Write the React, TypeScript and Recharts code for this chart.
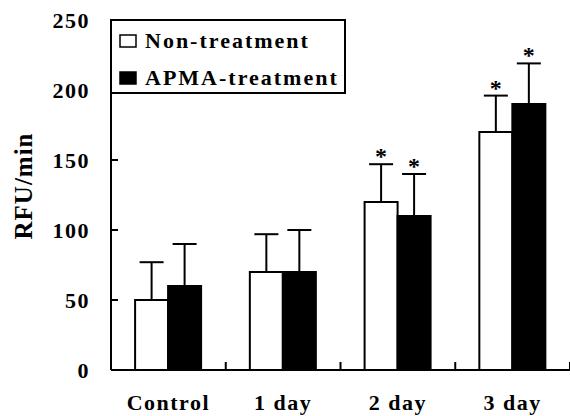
import React from 'react';
import { BarChart, Bar, XAxis, YAxis, ErrorBar, LabelList } from 'recharts';

const categories = ['Control', '1 day', '2 day', '3 day'];
const nonTreatment = [50, 70, 120, 170];
const nonTreatmentErr = [27, 27, 27, 26];
const apmaTreatment = [60, 70, 110, 190];
const apmaTreatmentErr = [30, 30, 30, 29];
const nonSig = [false, false, true, true];
const apmaSig = [false, false, true, true];
const yTicks = [0, 50, 100, 150, 200, 250];

const data = categories.map((name, i) => ({
  name,
  non: nonTreatment[i],
  nonErr: [0, nonTreatmentErr[i]],
  nonErrTop: nonTreatmentErr[i],
  apma: apmaTreatment[i],
  apmaErr: [0, apmaTreatmentErr[i]],
  apmaErrTop: apmaTreatmentErr[i],
}));

const FONT = '"Liberation Serif", "Times New Roman", serif';
const Y_AXIS_W = 111;

const YTick = ({ x, y, payload }: any) => (
  <g>
    <line x1={x} x2={x + 7} y1={y} y2={y} stroke="#000" strokeWidth={2} />
    <text x={x - 21} y={y} dy={8} textAnchor="end" fontFamily={FONT} fontWeight="bold" fontSize={22} letterSpacing={1.5} fill="#000">
      {payload.value}
    </text>
  </g>
);

// category label plus the small inward tick at the right edge of each band
const XTick = ({ x, y, payload, index }: any) => {
  const i = index ?? payload?.index ?? 0;
  const band = (x - Y_AXIS_W) / (i + 0.5);
  const edge = x + band / 2;
  return (
    <g>
      <line x1={edge} x2={edge} y1={y} y2={y - 8} stroke="#000" strokeWidth={2} />
      <text x={x} y={y + 40} textAnchor="middle" fontFamily={FONT} fontWeight="bold" fontSize={22} letterSpacing={1.5} fill="#000">
        {payload.value}
      </text>
    </g>
  );
};

const starRenderer = (values: number[], sig: boolean[]) => (props: any) => {
  const { x, y, width, height, value, index } = props;
  if (!sig[index]) return null;
  const ppu = height / values[index];
  const top = y - value * ppu;
  return (
    <text x={x + width / 2} y={top} textAnchor="middle" fontFamily={FONT} fontWeight="bold" fontSize={24} fill="#000">
      *
    </text>
  );
};

const YLabel = ({ viewBox }: any) => {
  const cx = viewBox.x + 23;
  const cy = viewBox.y + viewBox.height / 2 - 9;
  return (
    <text x={cx} y={cy} transform={`rotate(-90 ${cx} ${cy})`} textAnchor="middle" dominantBaseline="central" fontFamily={FONT} fontWeight="bold" fontSize={25} letterSpacing={1} fill="#000">
      RFU/min
    </text>
  );
};

export default function App() {
  return (
    <div style={{ position: 'absolute', left: 0, top: 0, width: 570, height: 416, background: '#fff' }}>
      <BarChart width={570} height={416} data={data} margin={{ top: 20, right: 0, bottom: 0, left: 0 }} barCategoryGap="21%" barGap={0}>
        <XAxis dataKey="name" height={46} axisLine={{ stroke: '#000', strokeWidth: 2 }} tickLine={false} tickSize={0} tickMargin={0} tick={<XTick />} interval={0} />
        <YAxis domain={[0, 250]} ticks={yTicks} width={Y_AXIS_W} axisLine={{ stroke: '#000', strokeWidth: 2 }} tickLine={false} tickSize={0} tickMargin={0} tick={<YTick />} interval={0} label={<YLabel />} />
        <Bar dataKey="non" fill="#fff" stroke="#000" strokeWidth={2} isAnimationActive={false}>
          <ErrorBar dataKey="nonErr" width={12} stroke="#000" strokeWidth={2} direction="y" isAnimationActive={false} />
          <LabelList dataKey="nonErrTop" content={starRenderer(nonTreatment, nonSig)} />
        </Bar>
        <Bar dataKey="apma" fill="#000" stroke="#000" strokeWidth={2} isAnimationActive={false}>
          <ErrorBar dataKey="apmaErr" width={12} stroke="#000" strokeWidth={2} direction="y" isAnimationActive={false} />
          <LabelList dataKey="apmaErrTop" content={starRenderer(apmaTreatment, apmaSig)} />
        </Bar>
      </BarChart>
      <svg width={570} height={416} style={{ position: 'absolute', left: 0, top: 0, pointerEvents: 'none' }}>
        <rect x={111} y={20} width={234} height={73} fill="#fff" stroke="#000" strokeWidth={2} />
        <rect x={120} y={35} width={16} height={12} fill="#fff" stroke="#000" strokeWidth={1.5} />
        <text x={145} y={48} fontFamily={FONT} fontWeight="bold" fontSize={22} letterSpacing={2} fill="#000">Non-treatment</text>
        <rect x={120} y={72} width={16} height={12} fill="#000" stroke="#000" strokeWidth={1.5} />
        <text x={145} y={85} fontFamily={FONT} fontWeight="bold" fontSize={22} letterSpacing={2} fill="#000">APMA-treatment</text>
      </svg>
    </div>
  );
}
